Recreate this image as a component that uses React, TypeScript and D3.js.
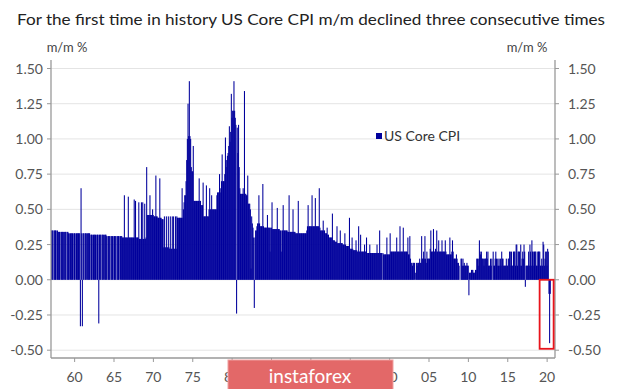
import React, { useEffect, useRef } from 'react';
import * as d3 from 'd3';

// monthly US core CPI m/m %, starting Jan 1957
const cpi1957_1969 = [
  0.35, 0.35, 0.35, 0, 0.35, 0.35, 0.35, 0.35, 0, 0.35, 0.34, 0.34,
  0.34, 0.34, 0, 0.34, 0.34, 0.34, 0.34, 0, 0.34, 0.34, 0.34, 0,
  0.34, 0.34, 0.33, 0.33, 0, 0.33, 0.33, 0.33, 0.33, 0, 0.33, 0.33,
  0.33, 0, 0.33, 0.33, 0.33, 0.33, 0.33, 0.33, -0.33, 0.65, 0.33, -0.33,
  0.33, 0.33, 0, 0.33, 0.33, 0.33, 0, 0.33, 0.33, 0.33, 0.33, 0,
  0.32, 0.32, 0.32, 0, 0.32, 0.32, 0.32, 0.32, 0, 0.32, 0.32, 0.32,
  -0.31, 0.32, 0.32, 0.32, 0, 0.32, 0.32, 0.32, 0, 0.32, 0.32, 0.32,
  0.31, 0, 0.31, 0.31, 0.31, 0.31, 0, 0.31, 0.31, 0.31, 0, 0.31,
  0.31, 0.31, 0.31, 0, 0.31, 0.31, 0.31, 0.31, 0, 0.31, 0.31, 0.31,
  0.3, 0.3, 0.3, 0.6, 0.3, 0.3, 0.3, 0.3, 0.3, 0.59, 0.3, 0.3,
  0.3, 0.3, 0.3, 0.3, 0.3, 0.3, 0.57, 0.3, 0.56, 0.3, 0.3, 0.3,
  0.3, 0.55, 0.29, 0.29, 0.29, 0.55, 0.29, 0.55, 0.29, 0.29, 0.54, 0.29,
  0.3, 0.8, 0.46, 0.46, 0.46, 0.46, 0.6, 0.46, 0.46, 0.46, 0.5, 0.46,
];
const cpi1970_1979 = [
  0.45, 0.45, 0.45, 0.74, 0.45, 0.45, 0.44, 0.44, 0.44, 0.72, 0.44, 0.44,
  0.43, 0.43, 0.43, 0.23, 0.45, 0.23, 0.23, 0.45, 0.23, 0.23, 0.45, 0.23,
  0.22, 0.45, 0.22, 0.22, 0.45, 0.22, 0.45, 0.22, 0.22, 0.45, 0.22, 0.45,
  0.44, 0.44, 0.44, 0.44, 0.44, 0.44, 0.44, 0.65, 0.44, 0.5, 0.55, 0.6,
  0.6, 0.7, 0.85, 1.0, 1.25, 1.02, 1.41, 1.02, 1.0, 0.8, 0.77, 0.77,
  0.95, 0.56, 0.56, 0.56, 0.56, 0.56, 0.56, 0.56, 0.56, 0.72, 0.56, 0.56,
  0.53, 0.53, 0.53, 0.69, 0.45, 0.45, 0.45, 0.45, 0.67, 0.45, 0.45, 0.45,
  0.5, 0.65, 0.5, 0.5, 0.6, 0.5, 0.5, 0.5, 0.5, 0.5, 0.5, 0.5,
  0.6, 0.62, 0.62, 0.62, 0.75, 0.62, 0.65, 0.7, 0.89, 0.7, 0.7, 0.7,
  0.75, 1.01, 0.8, 0.85, 0.88, 0.9, 0.95, 1.09, 0.98, 1.05, 1.32, 1.15,
];
const cpi1980_1989 = [
  1.2, 1.2, 1.41, 1.2, 1.15, 1.1, -0.24, 1.08, 0.9, 1.1, 0.8, 0.65,
  0.61, 0.61, 0.61, 0.61, 0.65, 0.61, 1.34, 0.61, 0.61, 0.6, 0.6, 0.74,
  0.54, 0.54, 0.54, 0.5, 0.08, 0.45, 0.4, 0.37, 0.3, -0.2, 0.3, 0.35,
  0.35, 0.38, 0.4, 0.4, 0.6, 0.4, 0.38, 0.38, 0.38, 0.38, 0.68, 0.38,
  0.37, 0.37, 0.37, 0.37, 0.37, 0.46, 0.37, 0.37, 0.37, 0.2, 0.37, 0.37,
  0.55, 0.36, 0.36, 0.36, 0.36, 0.36, 0.36, 0.36, 0.51, 0.36, 0.36, 0.36,
  0.35, 0.35, 0.2, 0.35, 0.35, 0.53, 0.35, 0.35, 0.35, 0.35, 0.35, 0.35,
  0.34, 0.34, 0.6, 0.34, 0.34, 0.34, 0.34, 0.34, 0.5, 0.34, 0.34, 0.34,
  0.33, 0.33, 0.33, 0.33, 0.56, 0.33, 0.33, 0.33, 0.33, 0.33, 0.33, 0.33,
  0.33, 0.33, 0.33, 0.33, 0.33, 0.35, 0.38, 0.53, 0.38, 0.38, 0.38, 0.38,
];
const cpi1990_1999 = [
  0.38, 0.6, 0.38, 0.38, 0.38, 0.38, 0.58, 0.38, 0.38, 0.38, 0.38, 0.38,
  0.65, 0.37, 0.35, 0.35, 0.35, 0.35, 0.42, 0.35, 0.35, 0.33, 0.33, 0.33,
  0.37, 0.32, 0.32, 0.3, 0.3, 0.3, 0.3, 0.3, 0.47, 0.28, 0.28, 0.28,
  0.27, 0.27, 0.27, 0.38, 0.26, 0.26, 0.26, 0.26, 0.35, 0.26, 0.26, 0.26,
  0.25, 0.25, 0.25, 0.33, 0.25, 0.24, 0.24, 0.24, 0.24, 0.24, 0.44, 0.22,
  0.22, 0.22, 0.3, 0.22, 0.21, 0.21, 0.21, 0.21, 0.28, 0.21, 0.2, 0.2,
  0.38, 0.2, 0.2, 0.32, 0.2, 0.2, 0.2, 0.2, 0.2, 0.25, 0.2, 0.2,
  0.3, 0.19, 0.19, 0.19, 0.19, 0.25, 0.19, 0.19, 0.19, 0.19, 0.19, 0.19,
  0.19, 0.19, 0.19, 0.19, 0.25, 0.19, 0.19, 0.19, 0.35, 0.19, 0.19, 0.19,
  0, 0.19, 0.18, 0.18, 0.18, 0.18, 0.18, 0.3, 0.18, 0.18, 0.18, 0.18,
];
const cpi2000_2009 = [
  0.33, 0.2, 0.2, 0.2, 0.2, 0.2, 0.2, 0.2, 0.2, 0.2, 0.3, 0.2,
  0.2, 0.2, 0.2, 0.38, 0.2, 0.2, 0.2, 0.2, 0.37, 0.2, 0.2, 0.2,
  0.2, 0.2, 0.2, 0.3, 0.18, 0.18, 0.31, 0.15, 0.12, 0.12, 0.1, 0.12,
  0.12, 0.12, 0, 0.05, 0.12, 0.1, 0.12, 0.12, 0.12, 0.15, 0.12, 0.12,
  0.31, 0.15, 0.15, 0.2, 0.15, 0.31, 0.15, 0.12, 0.2, 0.15, 0.15, 0.15,
  0.15, 0.22, 0.35, 0.2, 0.2, 0.2, 0.36, 0.2, 0.2, 0.22, 0.2, 0.35,
  0.2, 0.2, 0.28, 0.2, 0.2, 0.2, 0.2, 0.28, 0.2, 0.2, 0.2, 0.2,
  0.28, 0.2, 0.18, 0.18, 0.18, 0.18, 0.18, 0.3, 0.18, 0.18, 0.2, 0.28,
  0.2, 0.15, 0.15, 0.15, 0.15, 0.18, 0.15, 0.12, 0.12, 0.1, 0, 0,
  0.15, 0.15, 0.1, 0.15, 0.1, 0.12, 0.1, 0.1, 0.1, 0.12, 0.1, 0.1,
];
const cpi2010_2020 = [
  -0.11, 0.05, 0.05, 0.05, 0.07, 0.07, 0.07, 0.05, 0.05, 0.05, 0.07, 0.07,
  0.15, 0.15, 0.1, 0.15, 0.28, 0.2, 0.18, 0.2, 0.15, 0.15, 0.15, 0.1,
  0.15, 0.15, 0.15, 0.2, 0.15, 0.2, 0.1, 0.1, 0.1, 0.15, 0.1, 0.15,
  0, 0.2, 0.1, 0.1, 0.15, 0.2, 0.15, 0.1, 0.15, 0.1, 0.15, 0.1,
  0.15, 0.1, 0.2, 0.15, 0.15, 0.1, 0.1, 0.1, 0.1, 0.15, 0.1, 0.1,
  0.15, 0.15, 0.2, 0.2, 0.1, 0.2, 0.1, 0.1, 0.2, 0.2, 0.2, 0.1,
  0.25, 0.25, 0.1, 0.2, 0.2, 0.2, 0.1, 0.25, 0.1, 0.15, 0.2, 0.15,
  0.25, 0.2, -0.05, 0.1, 0.1, 0.1, 0.1, 0.2, 0.1, 0.25, 0.2, 0.1,
  0.28, 0.2, 0.2, 0.1, 0.2, 0.2, 0.2, 0.1, 0.1, 0.2, 0.2, 0.2,
  0.2, 0.1, 0.1, 0.15, 0.1, 0.27, 0.25, 0.1, 0.15, 0.2, 0.2, 0.1,
  0.22, 0.2, -0.1, -0.45, -0.1,
];

const startYear = 1957;
const xTicks = [1960, 1965, 1970, 1975, 1980, 1985, 1990, 1995, 2000, 2005, 2010, 2015, 2020];
const xTickLabels = ['60', '65', '70', '75', '80', '85', '90', '95', '00', '05', '10', '15', '20'];
const yTicks = [-0.5, -0.25, 0, 0.25, 0.5, 0.75, 1.0, 1.25, 1.5];

const font = 'Lato, "Open Sans", sans-serif';

function App() {
  const ref = useRef<SVGSVGElement>(null);

  useEffect(() => {
    const svg = d3.select(ref.current);
    svg.selectAll('*').remove();

    const values = [
      ...cpi1957_1969, ...cpi1970_1979, ...cpi1980_1989,
      ...cpi1990_1999, ...cpi2000_2009, ...cpi2010_2020,
    ];
    const data = values.map((v, i) => ({ t: startYear + i / 12, v }));

    const left = 51, right = 555, top = 60, bottom = 358;
    const x = d3.scaleLinear().domain([1957, 2021]).range([left, right]);
    const y = d3.scaleLinear().domain([-0.5, 1.5]).range([350.2, 68.5]);

    svg.append('rect').attr('width', 620).attr('height', 389).attr('fill', '#fff');

    // title
    svg.append('text')
      .attr('x', 17).attr('y', 25)
      .attr('textLength', 588).attr('lengthAdjust', 'spacingAndGlyphs')
      .style('font-family', font).style('font-size', '16px').attr('fill', '#222')
      .text('For the first time in history US Core CPI m/m declined three consecutive times');

    svg.append('text').attr('x', 67).attr('y', 52).attr('text-anchor', 'middle')
      .style('font-family', font).style('font-size', '13px').attr('fill', '#444').text('m/m %');
    svg.append('text').attr('x', 527).attr('y', 52).attr('text-anchor', 'middle')
      .style('font-family', font).style('font-size', '13px').attr('fill', '#444').text('m/m %');

    // grid
    svg.append('g').selectAll('line').data(yTicks).enter().append('line')
      .attr('x1', left).attr('x2', right)
      .attr('y1', d => y(d)).attr('y2', d => y(d))
      .attr('stroke', '#e4e4e4').attr('stroke-width', 1);

    // bars
    const step = x(startYear + 1 / 12) - x(startYear);
    svg.append('g').selectAll('rect').data(data).enter().append('rect')
      .attr('x', d => x(d.t))
      .attr('width', step + 0.4)
      .attr('y', d => Math.min(y(d.v), y(0)))
      .attr('height', d => Math.abs(y(d.v) - y(0)))
      .attr('fill', '#00009c');

    // axes frame
    const axisColor = '#999';
    svg.append('line').attr('x1', left).attr('x2', left).attr('y1', top).attr('y2', bottom)
      .attr('stroke', axisColor).attr('stroke-width', 1.3);
    svg.append('line').attr('x1', right).attr('x2', right).attr('y1', top).attr('y2', bottom)
      .attr('stroke', axisColor).attr('stroke-width', 1.3);
    svg.append('line').attr('x1', left).attr('x2', right).attr('y1', bottom).attr('y2', bottom)
      .attr('stroke', axisColor).attr('stroke-width', 1.3);

    // y ticks, both sides
    const yt = svg.append('g');
    yTicks.forEach(t => {
      yt.append('line').attr('x1', left - 4).attr('x2', left).attr('y1', y(t)).attr('y2', y(t))
        .attr('stroke', axisColor);
      yt.append('line').attr('x1', right).attr('x2', right + 4).attr('y1', y(t)).attr('y2', y(t))
        .attr('stroke', axisColor);
      yt.append('text').attr('x', 43).attr('y', y(t) + 5).attr('text-anchor', 'end')
        .style('font-family', font).style('font-size', '14px').attr('fill', '#555')
        .text(t.toFixed(2));
      yt.append('text').attr('x', 568).attr('y', y(t) + 5).attr('text-anchor', 'start')
        .style('font-family', font).style('font-size', '14px').attr('fill', '#555')
        .text(t.toFixed(2));
    });

    // x ticks
    const xt = svg.append('g');
    xTicks.forEach((t, i) => {
      xt.append('line').attr('x1', x(t)).attr('x2', x(t)).attr('y1', bottom).attr('y2', bottom + 4)
        .attr('stroke', axisColor);
      xt.append('text').attr('x', x(t)).attr('y', 382).attr('text-anchor', 'middle')
        .style('font-family', font).style('font-size', '14px').attr('fill', '#555')
        .text(xTickLabels[i]);
    });

    // legend
    svg.append('rect').attr('x', 376).attr('y', 133).attr('width', 6).attr('height', 6).attr('fill', '#00009c');
    svg.append('text').attr('x', 384).attr('y', 141)
      .style('font-family', font).style('font-size', '14px').attr('fill', '#333').text('US Core CPI');

    // highlight box around the three declines
    svg.append('rect')
      .attr('x', x(2020.0) - 7.5).attr('y', y(0))
      .attr('width', 14).attr('height', y(-0.49) - y(0))
      .attr('fill', 'none').attr('stroke', '#e8141c').attr('stroke-width', 1.8);

    // watermark
    svg.append('rect').attr('x', 228).attr('y', 360).attr('width', 165).attr('height', 30)
      .attr('fill', '#e36868').attr('stroke', '#f0a0a0').attr('stroke-width', 1);
    svg.append('text').attr('x', 310).attr('y', 383).attr('text-anchor', 'middle')
      .style('font-family', font).style('font-size', '19px').attr('fill', '#fff').text('instaforex');
  }, []);

  return (
    <svg ref={ref} width={620} height={389}
      style={{ position: 'absolute', left: 0, top: 0, display: 'block' }} />
  );
}

export default App;
